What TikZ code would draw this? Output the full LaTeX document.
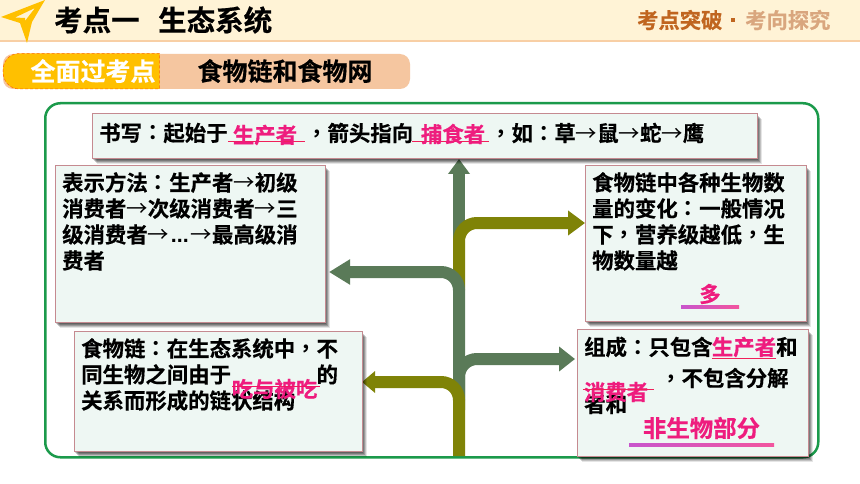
\documentclass[tikz,border=0pt]{standalone}
\usepackage{fontspec}
\usetikzlibrary{arrows.meta,calc}
\setmainfont{Noto Sans CJK SC}[BoldFont=* Bold,BoldFeatures={FakeBold=0.5}]
\newfontfamily\tcf{Noto Sans CJK TC}[BoldFont=* Bold]
\newfontfamily\lsf{Liberation Sans}
\newcommand{\pu}[1]{{\tcf\bfseries #1}}
\newcommand{\ar}{{\mdseries →}}
\definecolor{band}{HTML}{FFF3D6}
\definecolor{bandline}{HTML}{F8CFA5}
\definecolor{gold}{HTML}{FFC000}
\definecolor{peach}{HTML}{F5C6A0}
\definecolor{frameg}{HTML}{1B9A4B}
\definecolor{boxfill}{HTML}{EEF7F3}
\definecolor{boxline}{HTML}{C58A90}
\definecolor{leaf}{HTML}{5A7A58}
\definecolor{olive}{HTML}{7F8307}
\definecolor{hot}{HTML}{EE1C7E}
\definecolor{redline}{HTML}{F0205A}
\definecolor{rust}{HTML}{C0651F}
\definecolor{tan}{HTML}{D9A67E}
\definecolor{orchid}{HTML}{C855CC}
\tikzset{
  card/.style={draw=boxline,line width=0.9pt,fill=boxfill,anchor=north west,inner sep=0pt,
    preaction={draw=none,fill=black,opacity=.10,transform canvas={shift={(5pt,-6pt)}}},
    preaction={draw=none,fill=black,opacity=.16,transform canvas={shift={(4pt,-5pt)}}},
    preaction={draw=none,fill=black,opacity=.20,transform canvas={shift={(3pt,-4pt)}}},
    preaction={draw=none,fill=black,opacity=.20,transform canvas={shift={(2pt,-3pt)}}},
    preaction={draw=none,fill=black,opacity=.20,transform canvas={shift={(1pt,-2pt)}}}},
  body/.style={anchor=north west,inner sep=0pt,align=left,font=\fontsize{21.4}{26}\selectfont\bfseries,text=black},
  fill in/.style={inner sep=0pt,font=\fontsize{21.4}{26}\selectfont\bfseries,text=hot},
  pipe/.style={line width=12pt,rounded corners=18pt,-{Triangle[length=#1,width=24pt]}},
  rule/.style={draw=redline,line width=1pt},
  grad/.style={left color=orchid,right color=hot!75!white,draw=none},
}
\begin{document}
\begin{tikzpicture}[x=1pt,y=-1pt]
\useasboundingbox (0,0) rectangle (860,484);
\fill[white] (0,0) rectangle (860,484);
% header
\fill[band] (0,0) rectangle (860,40);
\draw[bandline,line width=1.5pt] (0,41) -- (860,41);
\fill[gold,even odd rule] (45,0) -- (1,17) -- (20,23) -- (27,43) -- (32,22) -- cycle
   (35,8) -- (15,17.5) -- (25,18) -- (25,21) -- cycle;
\node[anchor=west,inner sep=0pt,font=\fontsize{28.5}{30}\selectfont\bfseries] (title) at (54,20) {考点一};
\node[anchor=west,inner sep=0pt,font=\fontsize{28.5}{30}\selectfont\bfseries] (title2) at (158,20) {生态系统};
\node[anchor=west,inner sep=0pt,text=rust,font=\fontsize{21.3}{24}\selectfont\bfseries] (brk) at (637,20) {考点突破};
\fill[rust] (731,18) rectangle (735,22);
\node[anchor=west,inner sep=0pt,text=tan,font=\fontsize{21.3}{24}\selectfont\bfseries] (brk2) at (745,20) {考向探究};
% tag
\fill[peach,rounded corners=10pt] (3,54) rectangle (410,89);
\path[fill=gold,draw=orange!80!red,densely dashed,line width=.5pt] (159.5,53.5) -- (20,53.5)
  .. controls (8,53.5) and (3,62) .. (3,71) .. controls (3,80) and (8,89) .. (20,89) -- (159.5,89) -- cycle;
\node[inner sep=0pt,text=white,font=\fontsize{25}{28}\selectfont\bfseries] (tagl) at (93,71) {全面过考点};
\node[inner sep=0pt,font=\fontsize{25}{28}\selectfont\bfseries] (tagr) at (285,71) {食物链和食物网};
% frame
\node[draw=frameg,line width=2.5pt,rounded corners=15pt,anchor=north west,inner sep=0pt,minimum width=773pt,minimum height=354pt] (frame) at (44,102) {};
% arrows
\coordinate (tipup) at (459,159);
\coordinate (baseup) at (459,290);
\coordinate (tipr1) at (585,223);
\coordinate (baser1) at (459,290);
\coordinate (tipl1) at (329,272);
\coordinate (basel1) at (459,410);
\coordinate (tipr2) at (575,359);
\coordinate (baser2) at (459,400);
\coordinate (tipl2) at (362,382);
\coordinate (basel2) at (459,456);
\draw[leaf,line width=12pt,-{Triangle[length=15pt,width=21pt]}] (baseup) -- (tipup);
\draw[pipe=17pt,olive] (baser1) |- (tipr1);
\draw[pipe=16pt,leaf] (baser2) |- (tipr2);
\draw[pipe=21pt,leaf] (basel1) |- (tipl1);
\draw[olive,line width=12pt,rounded corners=18pt,-{Triangle[length=13pt,width=21pt]}] (basel2) |- (tipl2);
% cards
\node[card,minimum width=665pt,minimum height=45pt] (top) at (92,113) {};
\node[card,minimum width=270pt,minimum height=157pt] (lone) at (55,165) {};
\node[card,minimum width=221pt,minimum height=156pt] (rone) at (585,165) {};
\node[card,minimum width=288pt,minimum height=120pt] (ltwo) at (74,331) {};
\node[card,minimum width=231pt,minimum height=127pt] (rtwo) at (577,329) {};
% top text
\node[body,anchor=west] (t1) at (99,133) {书写\pu{：}起始于};
\draw[rule] (228,142) -- (305,142);
\node[fill in] (f1) at (265,135) {生产者};
\node[body,anchor=west] (t2) at (306,133) {\pu{，}箭头指向};
\draw[rule] (412,142) -- (489,142);
\node[fill in] (f2) at (453,134) {捕食者};
\node[body,anchor=west] (t3) at (490,133) {\pu{，}如\pu{：}草\ar 鼠\ar 蛇\ar 鹰};
% left one
\node[body] (b1) at (62,172) {表示方法\pu{：}生产者\ar 初级\\消费者\ar 次级消费者\ar 三\\级消费者\ar{\lsf\bfseries\hbox to 21.4pt{\hss...\hss}}\ar 最高级消\\费者};
% right one
\node[body] (b2) at (592,172) {食物链中各种生物数\\量的变化\pu{：}一般情况\\下\pu{，}营养级越低\pu{，}生\\物数量越};
\node[fill in] (f3) at (710,294) {多};
\shade[grad] (681,305.5) rectangle (739,308.5);
% left two
\node[body] (b3) at (81,338) {食物链\pu{：}在生态系统中\pu{，}不\\同生物之间由于\hspace{85.6pt}的\\关系而形成的链状结构};
\node[fill in] (f4) at (274.5,389) {吃与被吃};
\draw[rule,draw=hot!80!red] (232,386) -- (320,386);
% right two
\node[body,anchor=west] (c1) at (584,347) {组成\pu{：}只包含};
\node[fill in] (f5) at (744,347) {生产者};
\draw[rule] (712,358) -- (776,358);
\node[body,anchor=west] (c2) at (776,347) {和};
\node[body,anchor=west] (c3) at (660,378) {\pu{，}不包含分解};
\node[body,anchor=west] (c4) at (584,404) {者和};
\node[fill in] (f6) at (616,392) {消费者};
\draw[rule] (583,389) -- (654,389);
\node[fill in,font=\fontsize{23.4}{26}\selectfont\bfseries] (f7) at (701.5,428) {非生物部分};
\shade[grad] (629,443.5) rectangle (774,446.5);
\end{tikzpicture}
\end{document}
